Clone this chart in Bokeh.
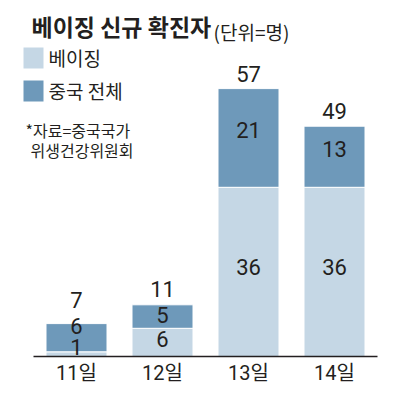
from bokeh.plotting import figure
from bokeh.models import ColumnDataSource, Range1d, FixedTicker
from bokeh.core.properties import value
from bokeh.embed import file_html
from bokeh.resources import INLINE

# ---- data ----
days = ["11일", "12일", "13일", "14일"]
beijing = [1, 6, 36, 36]          # 베이징
china_rest = [6, 5, 21, 13]       # 중국 전체 (베이징 제외분)
totals = [7, 11, 57, 49]          # 중국 전체 합계
series_names = ["베이징", "중국 전체"]

title_main = "베이징 신규 확진자"
title_unit = "(단위=명)"
note_lines = ["*자료=중국국가", "위생건강위원회"]

# ---- styles ----
LIGHT = "#c5d7e5"
DARK = "#6e99ba"
INK = "#231f20"
KR = "Noto Sans CJK KR"
NUM = "Roboto, 'Noto Sans CJK KR'"

# label nudges (screen px, negative = up)
light_off = [-7, -3, -5, -5]
dark_off = [-12, -2, -8, -8]
total_off = [-24, -16, -15, -15]

# ---- layout (image pixel coordinates) ----
W, H = 392, 390
ML, MR, MT, MB = 20, 15, 0, 34
PX_PER_BAR = 86.0
PX_PER_UNIT = 4.7
frame_w = W - ML - MR
frame_h = H - MT - MB
x_end = len(days) - 0.5
x_start = x_end - frame_w / PX_PER_BAR
y_end = frame_h / PX_PER_UNIT

FRAME_LEFT = ML
FRAME_BOTTOM = MT + frame_h


def at(px, py):
    return (x_start + (px - FRAME_LEFT) / PX_PER_BAR,
            (FRAME_BOTTOM - py) / PX_PER_UNIT)


p = figure(width=W, height=H, output_backend="svg", toolbar_location=None,
           x_range=Range1d(x_start, x_end), y_range=Range1d(0, y_end),
           y_axis_location=None, min_border_left=ML, min_border_right=MR,
           min_border_top=MT, min_border_bottom=MB)
p.outline_line_color = None
p.grid.visible = False
p.background_fill_color = "white"
p.border_fill_color = "white"

xs = list(range(len(days)))
src = ColumnDataSource(dict(x=xs, beijing=beijing, rest=china_rest))
p.vbar_stack(["beijing", "rest"], x="x", width=61 / PX_PER_BAR, source=src,
             color=[LIGHT, DARK], line_color="white", line_width=1)

# value labels
lab = ColumnDataSource(dict(
    x=xs * 3,
    y=[b / 2 for b in beijing] + [b + r / 2 for b, r in zip(beijing, china_rest)] + totals,
    text=[str(v) for v in beijing] + [str(v) for v in china_rest] + [str(v) for v in totals],
    off=light_off + dark_off + total_off,
))
p.text(x="x", y="y", text="text", y_offset="off", source=lab,
       text_align="center", text_baseline="middle",
       text_font=value(NUM), text_font_size="22px", text_color=INK)

# x axis
ax = p.xaxis[0]
ax.ticker = FixedTicker(ticks=xs)
ax.major_label_overrides = {i: d for i, d in enumerate(days)}
ax.bounds = (-0.5, len(days) - 0.5)
ax.axis_line_color = INK
ax.axis_line_width = 1.6
ax.major_tick_line_color = None
ax.minor_tick_line_color = None
ax.major_tick_out = 0
ax.major_tick_in = 0
ax.minor_tick_out = 0
ax.minor_tick_in = 0
ax.major_label_standoff = 4
ax.major_label_text_font = NUM
ax.major_label_text_font_size = "20px"
ax.major_label_text_color = INK

# title
tx, ty = at(31, 25)
p.text(x=[tx], y=[ty], text=[title_main], text_font=value(KR), text_font_style="bold",
       text_font_size="23px", text_baseline="middle", text_color=INK)
ux, uy = at(213, 31)
p.text(x=[ux], y=[uy], text=[title_unit], text_font=value(KR),
       text_font_size="19px", text_baseline="middle", text_color=INK)

# legend (swatches + labels)
for col, name, py in [(LIGHT, series_names[0], 57.5), (DARK, series_names[1], 90.5)]:
    sx, sy = at(33, py)
    p.rect(x=[sx], y=[sy], width=20, height=21, width_units="screen",
           height_units="screen", fill_color=col, line_color=None)
    lx, ly = at(48, py - 1)
    p.text(x=[lx], y=[ly], text=[name], text_font=value(KR), text_font_size="19px",
           text_baseline="middle", text_color=INK)

# source note
for txt, px, py in [(note_lines[0], 25, 129.5), (note_lines[1], 30, 149.5)]:
    nx, ny = at(px, py)
    p.text(x=[nx], y=[ny], text=[txt], text_font=value(KR), text_font_size="16px",
           text_baseline="middle", text_color=INK)

open("out.html", "w").write(file_html(p, INLINE))
